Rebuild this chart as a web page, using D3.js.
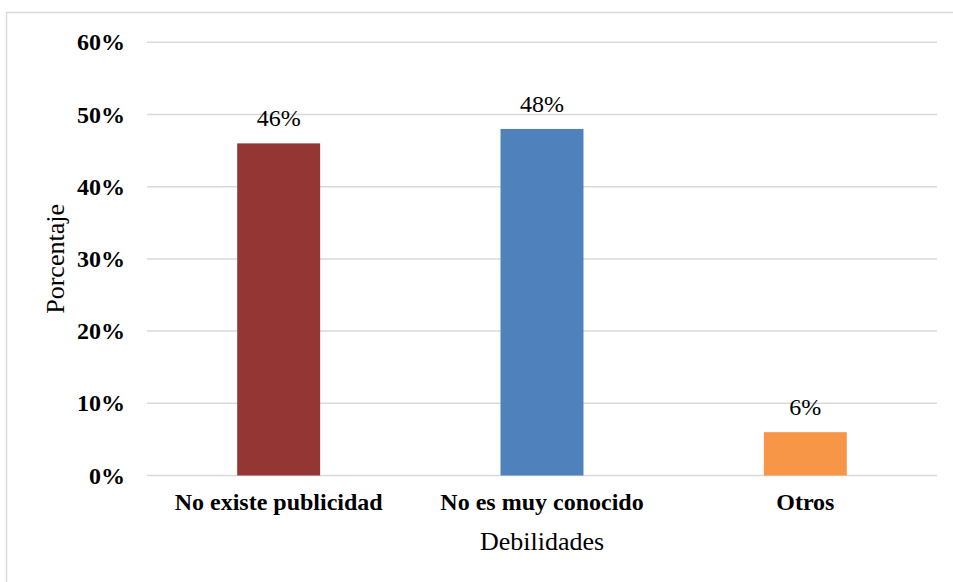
<!DOCTYPE html>
<html>
<head>
<meta charset="utf-8">
<script src="https://cdn.jsdelivr.net/npm/d3@7"></script>
<style>
  html, body { margin: 0; padding: 0; background: #fff; }
  svg { display: block; }
</style>
</head>
<body>
<svg id="chart" width="953" height="582"></svg>
<script>
// Weaknesses survey: share of responses per category
const categories = ["No existe publicidad", "No es muy conocido", "Otros"];
const values = [0.46, 0.48, 0.06];
const valueLabels = ["46%", "48%", "6%"];
const barColors = ["#943634", "#4F81BD", "#F79646"];
const yTicks = [0, 0.1, 0.2, 0.3, 0.4, 0.5, 0.6];

const FONT = "'Liberation Serif', 'Times New Roman', serif";
const svg = d3.select("#chart");
const W = 953, H = 582;

// outer chart frame
svg.append("rect")
  .attr("x", 6.5).attr("y", 12.5)
  .attr("width", W + 10).attr("height", H)
  .attr("fill", "#fff").attr("stroke", "#d9d9d9").attr("stroke-width", 1.5);

const plot = { left: 147, right: 937, top: 42.3, bottom: 475.5 };

const x = d3.scaleBand()
  .domain(categories)
  .range([plot.left, plot.right])
  .paddingInner(0.685)
  .paddingOuter(0.3425);

const y = d3.scaleLinear()
  .domain([0, 0.6])
  .range([plot.bottom, plot.top]);

// horizontal gridlines
svg.append("g")
  .selectAll("line")
  .data(yTicks)
  .join("line")
  .attr("x1", plot.left).attr("x2", plot.right)
  .attr("y1", d => y(d)).attr("y2", d => y(d))
  .attr("stroke", "#d9d9d9").attr("stroke-width", 1.5);

// y axis tick labels
const yAxis = d3.axisLeft(y)
  .tickValues(yTicks)
  .tickFormat(d3.format(".0%"))
  .tickSize(0)
  .tickPadding(22);
const gy = svg.append("g")
  .attr("transform", `translate(${plot.left},0)`)
  .call(yAxis);
gy.select(".domain").remove();
gy.selectAll("text")
  .style("font-family", FONT)
  .style("font-size", "24px")
  .style("font-weight", "bold")
  .style("fill", "#000");

// bars
svg.append("g")
  .selectAll("rect")
  .data(categories)
  .join("rect")
  .attr("x", d => x(d))
  .attr("width", x.bandwidth())
  .attr("y", (d, i) => y(values[i]))
  .attr("height", (d, i) => y(0) - y(values[i]))
  .attr("fill", (d, i) => barColors[i]);

// value labels
svg.append("g")
  .selectAll("text")
  .data(categories)
  .join("text")
  .attr("x", d => x(d) + x.bandwidth() / 2)
  .attr("y", (d, i) => y(values[i]) - 17)
  .attr("text-anchor", "middle")
  .style("font-family", FONT)
  .style("font-size", "24px")
  .style("fill", "#000")
  .text((d, i) => valueLabels[i]);

// x axis category labels
const xAxis = d3.axisBottom(x).tickSize(0).tickPadding(17);
const gx = svg.append("g")
  .attr("transform", `translate(0,${plot.bottom})`)
  .call(xAxis);
gx.select(".domain").remove();
gx.selectAll("text")
  .style("font-family", FONT)
  .style("font-size", "24px")
  .style("font-weight", "bold")
  .style("fill", "#000");

// axis titles
svg.append("text")
  .attr("x", (plot.left + plot.right) / 2)
  .attr("y", 550)
  .attr("text-anchor", "middle")
  .style("font-family", FONT)
  .style("font-size", "26px")
  .style("fill", "#000")
  .text("Debilidades");

svg.append("text")
  .attr("transform", `translate(64,${(plot.top + plot.bottom) / 2}) rotate(-90)`)
  .attr("text-anchor", "middle")
  .style("font-family", FONT)
  .style("font-size", "26px")
  .style("fill", "#000")
  .text("Porcentaje");
</script>
</body>
</html>
